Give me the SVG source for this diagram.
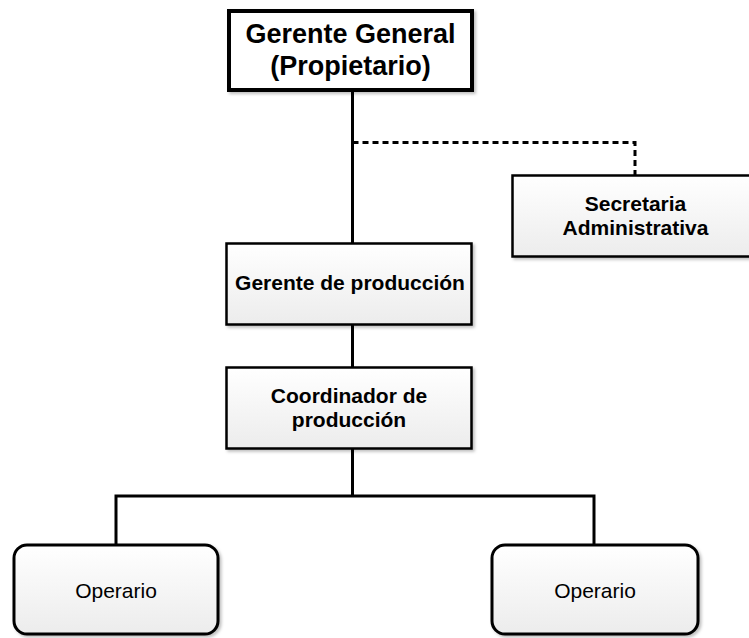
<svg xmlns="http://www.w3.org/2000/svg" width="749" height="638" viewBox="0 0 749 638">
  <defs>
    <linearGradient id="boxFill" x1="0" y1="0" x2="0" y2="1">
      <stop offset="0" stop-color="#ffffff"/>
      <stop offset="1" stop-color="#ececec"/>
    </linearGradient>
    <filter id="shadow" x="-10%" y="-10%" width="130%" height="130%">
      <feDropShadow dx="2" dy="2" stdDeviation="1.5" flood-color="#000" flood-opacity="0.25"/>
    </filter>
  </defs>
  <style>
    .box { fill: url(#boxFill); stroke: #000; stroke-width: 2.5; filter: url(#shadow); }
    .boss { stroke-width: 4; fill: #fff; }
    .op { stroke-width: 3; }
    .link { fill: none; stroke: #000; stroke-width: 3; }
    .dash { fill: none; stroke: #000; stroke-width: 3; stroke-dasharray: 6 4; }
    text { font-family: "Liberation Sans", Arial, sans-serif; fill: #000; text-anchor: middle; }
    .b { font-weight: bold; font-size: 21px; }
    .t { font-weight: bold; font-size: 27px; }
    .r { font-size: 21px; }
  </style>

  <rect width="749" height="638" fill="#fff"/>

  <!-- connectors -->
  <g id="connectors">
    <path class="link" d="M352.5 90 V243"/>
    <path class="dash" d="M352.5 142.5 H635 V175"/>
    <path class="link" d="M352.5 325 V367"/>
    <path class="link" d="M352.5 449 V496 M116 545 V496 H594 V545"/>
  </g>

  <g id="gerente-general">
    <rect class="box boss" x="229" y="11" width="243" height="79"/>
    <text class="t" x="350.5" y="43">Gerente General</text>
    <text class="t" x="350.5" y="75">(Propietario)</text>
  </g>

  <g id="secretaria">
    <rect class="box" x="512.5" y="175.5" width="246" height="81"/>
    <text class="b" x="635.5" y="211">Secretaria</text>
    <text class="b" x="635.5" y="235">Administrativa</text>
  </g>

  <g id="gerente-produccion">
    <rect class="box" x="226.5" y="243.5" width="245" height="81"/>
    <text class="b" x="350" y="290">Gerente de producción</text>
  </g>

  <g id="coordinador">
    <rect class="box" x="226.5" y="367.5" width="245" height="81"/>
    <text class="b" x="349" y="403">Coordinador de</text>
    <text class="b" x="349" y="427">producción</text>
  </g>

  <g id="operario-1">
    <rect class="box op" x="14" y="545" width="204" height="89" rx="13"/>
    <text class="r" x="116" y="598">Operario</text>
  </g>

  <g id="operario-2">
    <rect class="box op" x="492" y="545" width="206" height="89" rx="13"/>
    <text class="r" x="595" y="598">Operario</text>
  </g>
</svg>
